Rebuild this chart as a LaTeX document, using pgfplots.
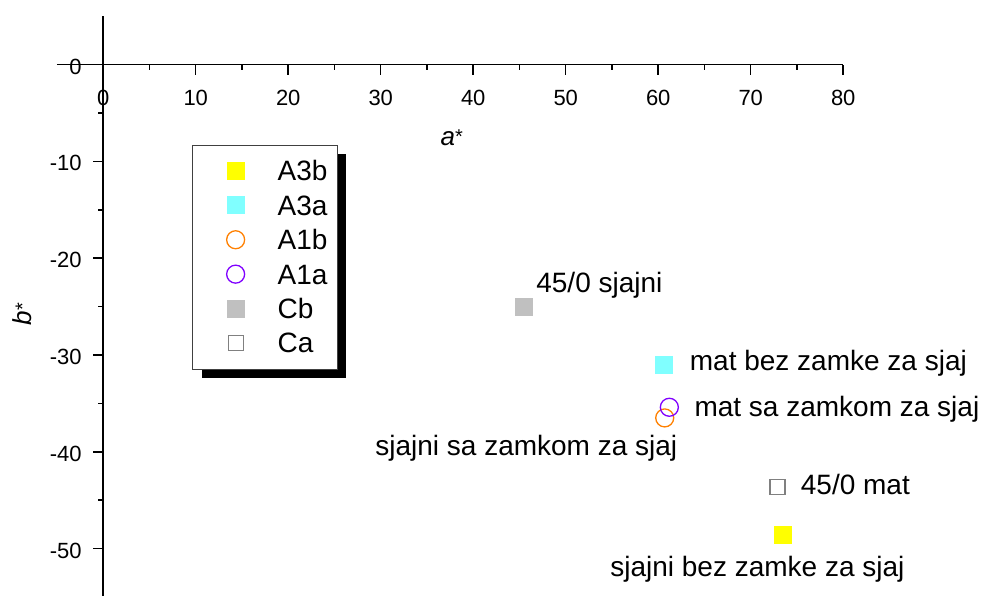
\documentclass[border=0pt]{standalone}
\usepackage{pgfplots}
\pgfplotsset{compat=1.18}
\usepackage{fontspec}
\setmainfont{Liberation Sans}
\usetikzlibrary{shadows}
\definecolor{cA3b}{RGB}{255,255,0}
\definecolor{cA3a}{RGB}{128,255,255}
\definecolor{cA1b}{RGB}{255,128,0}
\definecolor{cA1a}{RGB}{128,0,255}
\definecolor{cCb}{RGB}{192,192,192}
\definecolor{cCa}{RGB}{128,128,128}
\pgfplotsset{pt/.style={only marks,
  legend image code/.code={\pgfpathrectangle{\pgfpoint{0pt}{-10pt}}{\pgfpoint{40pt}{20pt}}\pgfusepath{discard}\draw[##1] plot coordinates {(33pt,0pt)};}}}
\begin{document}
\begin{tikzpicture}
\begin{axis}[
  at={(57pt,-1pt)}, anchor=south west,
  scale only axis, width=786.25pt, height=580.8pt,
  xmin=-5, xmax=80, ymin=-55, ymax=5,
  axis lines=middle, axis line style={-, line width=1.5pt},
  hide obscured x ticks=false, hide obscured y ticks=false,
  xtick={0,10,...,80}, ytick={-50,-40,...,0},
  minor tick num=1,
  tick align=outside, major tick length=10pt, minor tick length=5pt,
  tick style={line width=1.5pt, black},
  /pgf/number format/assume math mode=true,
  tick label style={font=\fontsize{22}{26}\selectfont},
  xticklabel style={anchor=north, yshift=-12pt},
  yticklabel style={anchor=east, xshift=-8pt, yshift=-2pt},
  xlabel={\textit{a}\raisebox{2pt}{\fontsize{20}{24}\selectfont*}}, ylabel={\textit{b}\raisebox{2pt}{\fontsize{20}{24}\selectfont*}},
  xlabel style={at={(axis description cs:0.502,0.791)}, anchor=center, font=\fontsize{26}{30}\selectfont},
  ylabel style={at={(axis description cs:-0.0445,0.487)}, anchor=center, rotate=90, font=\fontsize{26}{30}\selectfont},
  clip=false,
  legend cell align=left,
  legend style={at={(axis cs:9.62,-8.26)}, anchor=north west,
    draw=black!75, line width=0.8pt, fill=white,
    font=\fontsize{28}{32}\selectfont,
    inner xsep=10pt, inner ysep=16pt, row sep=14.4pt,
    nodes={inner sep=0pt, text height=20pt, text depth=0pt},
    /tikz/every odd column/.append style={column sep=33pt},
    drop shadow={shadow xshift=9pt, shadow yshift=-9pt, fill=black, opacity=1}},
]
\addplot[pt, mark=square*, mark size=8.5pt, draw=cA3b, fill=cA3b] coordinates {(73.5,-48.6)};
\addlegendentry{A3b}
\addplot[pt, mark=square*, mark size=8.5pt, draw=cA3a, fill=cA3a] coordinates {(60.6,-31.0)};
\addlegendentry{A3a}
\addplot[pt, mark=o, mark size=9pt, draw=cA1b, line width=1.3pt] coordinates {(60.7,-36.5)};
\addlegendentry{A1b}
\addplot[pt, mark=o, mark size=9pt, draw=cA1a, line width=1.3pt] coordinates {(61.2,-35.4)};
\addlegendentry{A1a}
\addplot[pt, mark=square*, mark size=8.5pt, draw=cCb, fill=cCb] coordinates {(45.5,-25.0)};
\addlegendentry{Cb}
\addplot[pt, mark=square*, mark size=7.5pt, draw=cCa, fill=white, line width=1.2pt] coordinates {(72.9,-43.6)};
\addlegendentry{Ca}
\begin{scope}[font=\fontsize{28}{32}\selectfont]
\node[anchor=base west, inner sep=0pt] at (axis cs:46.8,-23.5) {45/0 sjajni};
\node[anchor=base west, inner sep=0pt] at (axis cs:63.4,-31.6) {mat bez zamke za sjaj};
\node[anchor=base west, inner sep=0pt] at (axis cs:63.9,-36.4) {mat sa zamkom za sjaj};
\node[anchor=base west, inner sep=0pt] at (axis cs:29.4,-40.4) {sjajni sa zamkom za sjaj};
\node[anchor=base west, inner sep=0pt] at (axis cs:75.4,-44.4) {45/0 mat};
\node[anchor=base west, inner sep=0pt] at (axis cs:54.8,-52.9) {sjajni bez zamke za sjaj};
\end{scope}
\end{axis}
\pgfresetboundingbox
\path[use as bounding box] (0,0) rectangle (986pt,596pt);
\end{tikzpicture}
\end{document}
